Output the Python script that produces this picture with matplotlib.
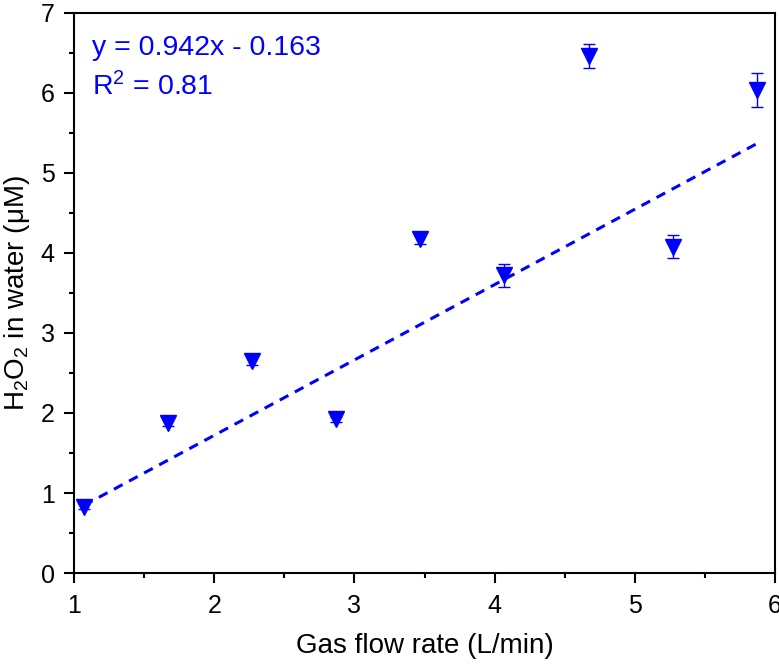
import matplotlib
matplotlib.use("Agg")
import matplotlib.pyplot as plt
from matplotlib.ticker import MultipleLocator

plt.rcParams['font.family'] = ['Liberation Sans', 'DejaVu Sans']
plt.rcParams['mathtext.fontset'] = 'custom'
plt.rcParams['mathtext.rm'] = 'Liberation Sans'
plt.rcParams['mathtext.it'] = 'Liberation Sans:italic'
plt.rcParams['mathtext.default'] = 'regular'

flow = [1.07, 1.67, 2.27, 2.87, 3.47, 4.07, 4.67, 5.27, 5.87]
h2o2 = [0.83, 1.88, 2.65, 1.92, 4.17, 3.72, 6.46, 4.08, 6.04]
err = [0.03, 0.04, 0.05, 0.03, 0.06, 0.14, 0.15, 0.14, 0.21]
slope = 0.942
intercept = -0.163
r2 = 0.81

blue = '#0000FF'
fig = plt.figure(figsize=(7.79, 6.66), dpi=100)
ax = fig.add_axes([0.095, 0.1396, 0.90, 0.841])

ax.errorbar(flow, h2o2, yerr=err, fmt='v', color=blue, ecolor=blue,
            markersize=12, elinewidth=1.0, capsize=4.5, capthick=1.0, zorder=3)
fx = [flow[0], flow[-1]]
fy = [slope * v + intercept for v in fx]
ax.plot(fx, fy, linestyle=(0, (3.2, 2.4)), color=blue, linewidth=2.2, zorder=2)

ax.set_xlim(1, 6)
ax.set_ylim(0, 7)
ax.xaxis.set_major_locator(MultipleLocator(1))
ax.xaxis.set_minor_locator(MultipleLocator(0.5))
ax.yaxis.set_major_locator(MultipleLocator(1))
ax.yaxis.set_minor_locator(MultipleLocator(0.5))
ax.tick_params(which='major', direction='out', length=7, width=1.5, labelsize=18)
ax.tick_params(axis='x', which='major', pad=8)
ax.tick_params(axis='y', which='major', pad=7)
ax.tick_params(which='minor', direction='out', length=3.5, width=1.5)
for s in ax.spines.values():
    s.set_linewidth(1.5)

ax.set_xlabel('Gas flow rate (L/min)', fontsize=20, labelpad=11)
ax.set_ylabel('H$_2$O$_2$ in water (μM)', fontsize=20, labelpad=6)

sign = '-' if intercept < 0 else '+'
ax.text(0.026, 0.9375, f'y = {slope}x {sign} {abs(intercept)}', transform=ax.transAxes,
        color=blue, fontsize=20.5, va='center', ha='left')
ax.text(0.026, 0.868, f'R$^2$ = {r2}', transform=ax.transAxes,
        color=blue, fontsize=20.5, va='center', ha='left')

fig.savefig('out.png', dpi=100)
